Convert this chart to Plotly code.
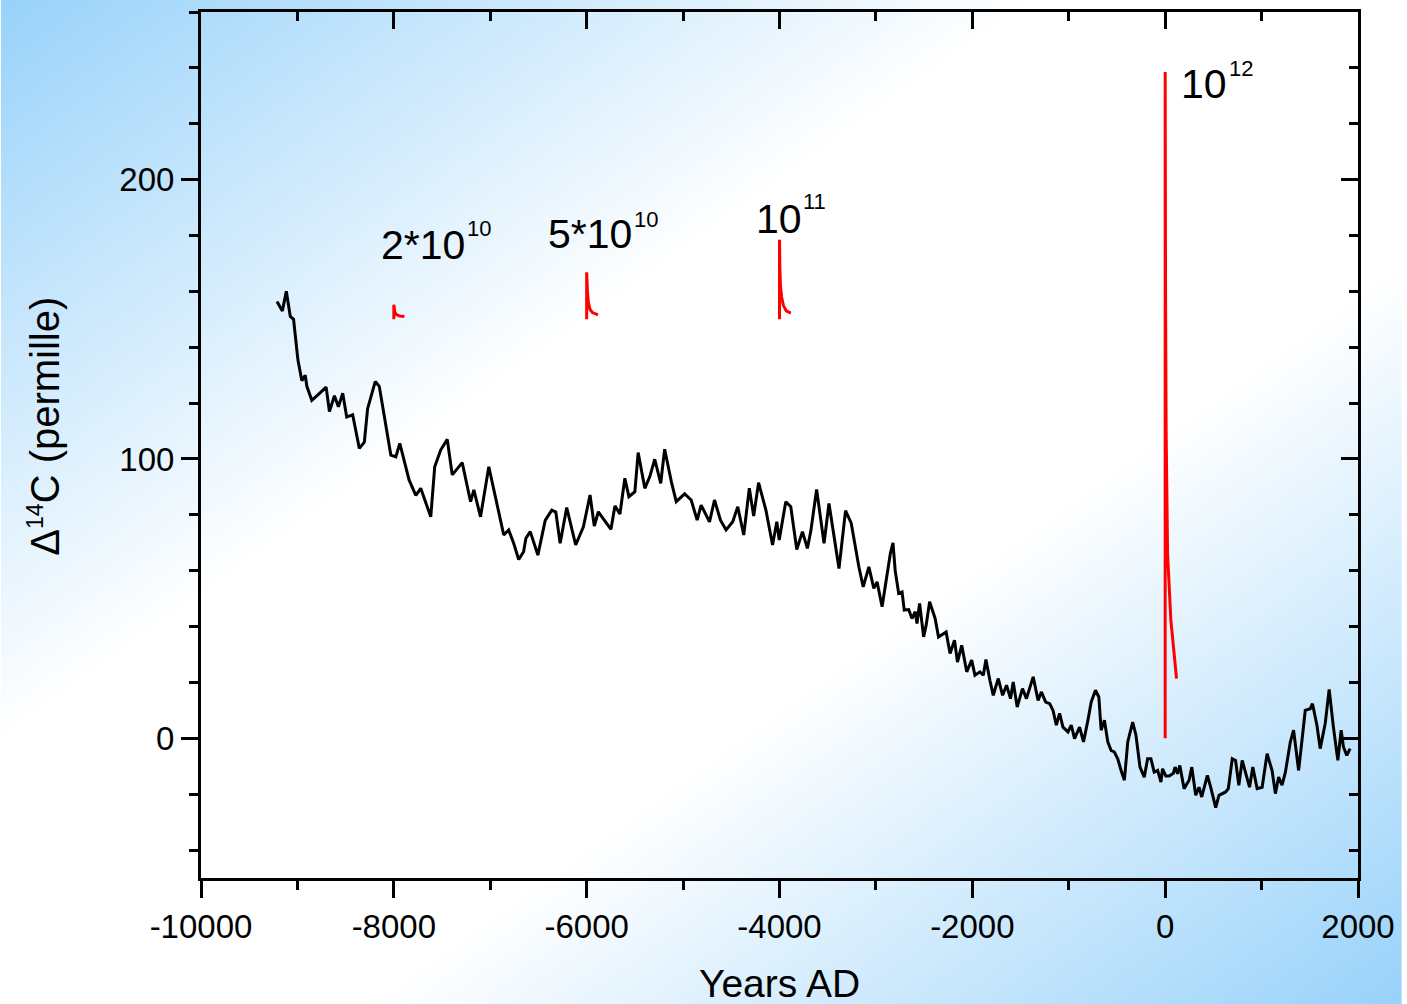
import base64
import plotly.graph_objects as go

# ---------------- data ----------------
years = [-9212, -9156, -9115, -9074, -9040, -8995, -8954, -8919, -8902, -8851,
         -8771, -8702, -8668, -8616, -8575, -8530, -8489, -8427, -8358, -8306,
         -8272, -8193, -8151, -8089, -8031, -7979, -7938, -7842, -7772, -7721,
         -7669, -7617, -7576, -7514, -7446, -7394, -7291, -7204, -7170, -7101,
         -7015, -6930, -6860, -6809, -6757, -6705, -6654, -6630, -6585, -6506,
         -6430, -6362, -6320, -6275, -6207, -6114, -6034, -5965, -5921, -5879,
         -5817, -5748, -5707, -5655, -5604, -5562, -5500, -5466, -5397, -5345,
         -5294, -5232, -5191, -5122, -5071, -4984, -4916, -4854, -4813, -4726,
         -4674, -4612, -4554, -4485, -4433, -4371, -4313, -4268, -4217, -4141,
         -4072, -4028, -4003, -3935, -3883, -3821, -3762, -3711, -3676, -3615,
         -3538, -3487, -3383, -3315, -3256, -3177, -3132, -3073, -3022, -2988,
         -2936, -2850, -2823, -2800, -2764, -2729, -2706, -2660, -2626, -2592,
         -2574, -2547, -2505, -2479, -2443, -2386, -2351, -2306, -2272, -2231,
         -2185, -2154, -2110, -2058, -2007, -1973, -1921, -1886, -1859, -1818,
         -1783, -1731, -1686, -1645, -1604, -1576, -1535, -1480, -1439, -1369,
         -1318, -1284, -1239, -1198, -1163, -1129, -1095, -1060, -1008, -974,
         -940, -888, -847, -801, -767, -723, -688, -664, -630, -595,
         -561, -527, -492, -457, -423, -388, -337, -303, -261, -217,
         -182, -148, -114, -78, -44, -27, 7, 41, 85, 103,
         128, 152, 196, 248, 276, 317, 351, 379, 438, 472,
         524, 558, 627, 655, 696, 730, 764, 799, 851, 875,
         909, 954, 1006, 1057, 1109, 1143, 1177, 1212, 1247, 1298,
         1332, 1384, 1419, 1453, 1505, 1528, 1574, 1608, 1660, 1701,
         1745, 1791, 1825, 1849, 1884, 1918]
d14c = [156.4, 153.0, 160.0, 151.0, 150.0, 135.5, 128.0, 130.0, 126.0, 121.0,
        123.5, 125.7, 117.0, 122.6, 118.7, 123.5, 115.0, 115.8, 103.8, 106.0,
        118.0, 127.7, 126.0, 112.8, 101.4, 100.8, 105.6, 92.5, 87.0, 89.5,
        84.0, 79.3, 97.2, 103.2, 107.0, 94.3, 98.7, 84.7, 88.9, 79.3,
        97.2, 84.0, 72.8, 74.6, 69.8, 64.0, 66.8, 71.6, 74.0, 65.6,
        78.0, 81.7, 81.0, 69.8, 82.6, 69.2, 75.7, 87.1, 76.0, 81.1,
        78.1, 74.8, 83.2, 80.3, 93.1, 86.5, 88.3, 102.3, 89.5, 93.7,
        99.9, 91.3, 103.5, 91.9, 84.7, 87.5, 85.3, 78.1, 83.5, 77.5,
        85.3, 78.1, 74.6, 77.5, 82.9, 72.8, 89.5, 79.6, 91.5, 81.7,
        69.2, 77.5, 71.0, 84.7, 82.9, 67.6, 74.0, 68.0, 74.0, 89.1,
        69.8, 84.1, 60.8, 81.5, 77.0, 61.4, 54.2, 61.4, 53.7, 56.0,
        47.1, 66.2, 70.0, 60.0, 51.9, 52.4, 45.9, 46.1, 42.9, 45.3,
        41.1, 48.3, 36.3, 40.5, 48.9, 42.9, 36.3, 37.5, 38.1, 30.4,
        35.1, 27.3, 33.3, 23.8, 28.0, 22.6, 23.8, 22.6, 28.2, 20.8,
        15.4, 21.4, 15.4, 19.0, 14.2, 20.2, 11.2, 17.8, 14.2, 22.0,
        13.6, 16.6, 13.0, 12.4, 10.0, 4.7, 8.9, 4.0, 2.3, 4.7,
        -0.1, 4.0, -1.3, 6.5, 13.0, 17.2, 14.8, 2.9, 6.5, -1.3,
        -4.3, -4.9, -7.3, -11.5, -15.0, -1.3, 5.8, 1.1, -10.3, -13.9,
        -7.3, -7.3, -12.1, -11.5, -15.7, -10.9, -13.5, -13.5, -12.5, -10.3,
        -12.7, -9.7, -18.0, -15.0, -10.3, -20.4, -17.5, -21.0, -13.3, -17.5,
        -24.8, -20.4, -19.2, -18.0, -7.3, -7.9, -16.8, -7.9, -15.0, -17.5,
        -10.3, -18.0, -17.5, -5.5, -11.5, -19.8, -13.9, -16.8, -12.1, -1.3,
        2.9, -11.5, -0.7, 10.0, 10.6, 12.4, 4.7, -3.7, 5.3, 17.5,
        4.0, -7.9, 2.9, -3.1, -6.1, -3.7]

# injected-carbon response spikes (red)
spike_2e10_x = [-8000, -8000, -7990, -7970, -7940, -7890]
spike_2e10_y = [150.0, 155.2, 152.6, 151.6, 151.2, 151.0]
spike_5e10_x = [-6000, -6000, -5992, -5982, -5965, -5940, -5882]
spike_5e10_y = [150.0, 166.8, 160.0, 156.0, 153.5, 152.4, 151.6]
spike_1e11_x = [-4000, -4000, -3996, -3990, -3978, -3960, -3930, -3883]
spike_1e11_y = [150.0, 178.5, 168.0, 162.0, 158.0, 155.0, 153.0, 152.2]
spike_1e12_x = [0, 0, 4, 10, 18, 25, 59, 76, 118]
spike_1e12_y = [0.0, 238.5, 160.0, 110.0, 80.0, 66.0, 42.3, 36.3, 21.4]

xtick_vals = [-10000, -8000, -6000, -4000, -2000, 0, 2000]
xtick_text = ["-10000", "-8000", "-6000", "-4000", "-2000", "0", "2000"]
ytick_vals = [0, 100, 200]
ytick_text = ["0", "100", "200"]

x_title = "Years AD"
y_title = "Δ<sup><span style='font-size:23px'>14</span></sup>C (permille)"

# annotation labels: (main text, superscript)
labels = [("2*10", "10"), ("5*10", "10"), ("10", "11"), ("10", "12")]
label_main_pos = [(-8149, 176.7), (-6424, 180.7), (-4266, 185.8), (139, 234.2)]
label_sup_pos = [(-7264, 182.4), (-5535, 185.8), (-3780, 192.2), (643, 239.6)]

# ---------------- figure ----------------
W, H = 1407, 1004
ML, MR, MT, MB = 201, 44, 12, 126
FONT = "Arial, Liberation Sans, sans-serif"
pw, ph = W - ML - MR, H - MT - MB

fig = go.Figure()
fig.add_trace(go.Scatter(x=years, y=d14c, mode="lines",
                         line=dict(color="black", width=3), showlegend=False))
for sx, sy in [(spike_2e10_x, spike_2e10_y), (spike_5e10_x, spike_5e10_y),
               (spike_1e11_x, spike_1e11_y), (spike_1e12_x, spike_1e12_y)]:
    fig.add_trace(go.Scatter(x=sx, y=sy, mode="lines",
                             line=dict(color="#ff0000", width=3), showlegend=False))
# empty trace so the mirrored (top / right) axes get drawn
fig.add_trace(go.Scatter(x=[None], y=[None], xaxis="x2", yaxis="y2", mode="lines",
                         showlegend=False, hoverinfo="skip"))

annotations = []
for (mt, st), (mx, my), (sx, sy) in zip(labels, label_main_pos, label_sup_pos):
    annotations.append(dict(x=mx, y=my, xref="x", yref="y", text=mt, showarrow=False,
                            xanchor="left", yanchor="middle",
                            font=dict(size=41, color="black", family=FONT)))
    annotations.append(dict(x=sx, y=sy, xref="x", yref="y", text=st, showarrow=False,
                            xanchor="left", yanchor="middle",
                            font=dict(size=22, color="black", family=FONT)))
# axis titles placed as paper-anchored texts for exact placement
annotations.append(dict(x=0.5, y=(MB - 105) / ph - MB / ph, xref="paper", yref="paper",
                        text=x_title, showarrow=False, xanchor="center", yanchor="middle",
                        font=dict(size=39, color="black", family=FONT)))
annotations.append(dict(x=(44 - ML) / pw, y=(H - MB - 426) / ph, xref="paper", yref="paper",
                        text=y_title, showarrow=False, textangle=-90,
                        xanchor="center", yanchor="middle",
                        font=dict(size=40, color="black", family=FONT)))

svg = (f'<svg xmlns="http://www.w3.org/2000/svg" width="{W}" height="{H}" '
       f'viewBox="0 0 {W} {H}" preserveAspectRatio="none"><defs>'
       '<linearGradient id="g" x1="0" y1="0" x2="1" y2="1">'
       '<stop offset="0" stop-color="#98d2fa"/>'
       '<stop offset="0.37" stop-color="#ffffff"/>'
       '<stop offset="0.63" stop-color="#ffffff"/>'
       '<stop offset="1" stop-color="#98d2fa"/>'
       '</linearGradient></defs>'
       f'<rect width="{W}" height="{H}" fill="url(#g)"/></svg>')
src = "data:image/svg+xml;base64," + base64.b64encode(svg.encode()).decode()

axis_common = dict(showline=True, linewidth=3, linecolor="black", showgrid=False,
                   zeroline=False, tickcolor="black", tickwidth=2.5, ticklen=17,
                   tickfont=dict(size=33, color="black", family=FONT))

fig.update_layout(
    width=W, height=H,
    margin=dict(l=ML, r=MR, t=MT, b=MB, pad=0),
    paper_bgcolor="white", plot_bgcolor="rgba(0,0,0,0)",
    font=dict(family=FONT, color="black"),
    images=[dict(source=src, xref="paper", yref="paper",
                 x=-ML / pw, y=1 + MT / ph, sizex=W / pw, sizey=H / ph,
                 xanchor="left", yanchor="top", sizing="stretch", layer="below")],
    xaxis=dict(range=[-10000, 2000], tickmode="array", tickvals=xtick_vals,
               ticktext=xtick_text, ticks="outside",
               minor=dict(tickmode="linear", tick0=0, dtick=1000, ticks="outside",
                          ticklen=9, tickwidth=2.5, tickcolor="black", showgrid=False),
               **axis_common),
    yaxis=dict(range=[-50, 260], tickmode="array", tickvals=ytick_vals,
               ticktext=ytick_text, ticks="outside",
               minor=dict(tickmode="linear", tick0=0, dtick=20, ticks="outside",
                          ticklen=9, tickwidth=2.5, tickcolor="black", showgrid=False),
               **axis_common),
    xaxis2=dict(range=[-10000, 2000], overlaying="x", side="top", anchor="y",
                tickmode="array", tickvals=xtick_vals, ticks="inside",
                showticklabels=False,
                minor=dict(tickmode="linear", tick0=0, dtick=1000, ticks="inside",
                           ticklen=9, tickwidth=2.5, tickcolor="black", showgrid=False),
                **axis_common),
    yaxis2=dict(range=[-50, 260], overlaying="y", side="right", anchor="x",
                tickmode="array", tickvals=ytick_vals, ticks="inside",
                showticklabels=False,
                minor=dict(tickmode="linear", tick0=0, dtick=20, ticks="inside",
                           ticklen=9, tickwidth=2.5, tickcolor="black", showgrid=False),
                **axis_common),
    annotations=annotations,
    showlegend=False,
)

fig.write_html("out.html")
